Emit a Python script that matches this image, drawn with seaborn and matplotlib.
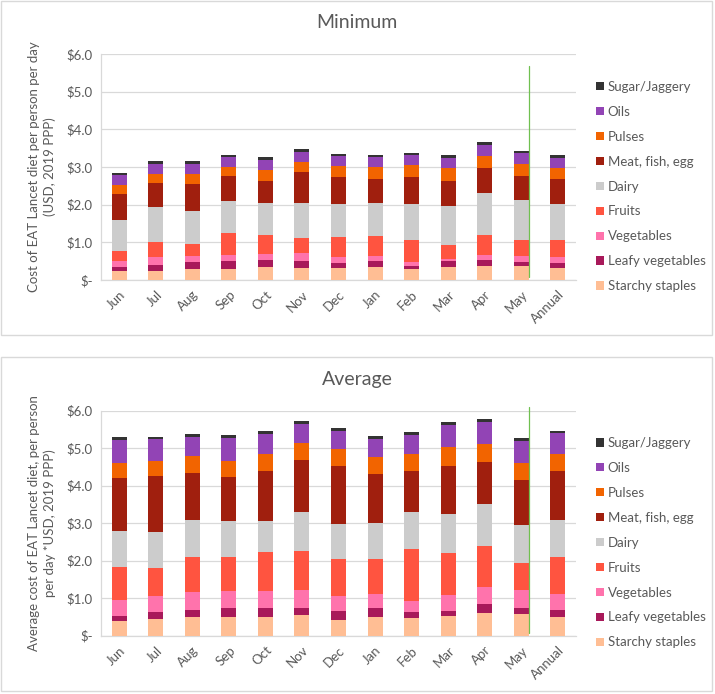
import numpy as np
import pandas as pd
import seaborn as sns
import matplotlib
matplotlib.use("Agg")
from matplotlib import pyplot as plt
from matplotlib.patches import Patch, Rectangle
from matplotlib.ticker import FuncFormatter

# months on the x axis
months = ["Jun", "Jul", "Aug", "Sep", "Oct", "Nov", "Dec", "Jan", "Feb", "Mar", "Apr", "May", "Annual"]

# food groups, bottom of the stack first
groups = ["Starchy staples", "Leafy vegetables", "Vegetables", "Fruits", "Dairy",
          "Meat, fish, egg", "Pulses", "Oils", "Sugar/Jaggery"]
colors = ["#FFBE94", "#A8195A", "#FF73AC", "#FF5440", "#CCCCCC",
          "#A01F0E", "#F26400", "#9244B5", "#333333"]

# minimum cost, USD per person per day
min_starchy = [0.24, 0.25, 0.28, 0.30, 0.34, 0.33, 0.33, 0.35, 0.29, 0.35, 0.36, 0.36, 0.32]
min_leafy   = [0.11, 0.16, 0.19, 0.21, 0.19, 0.18, 0.12, 0.16, 0.09, 0.15, 0.18, 0.13, 0.14]
min_veg     = [0.15, 0.19, 0.18, 0.16, 0.16, 0.22, 0.17, 0.14, 0.10, 0.07, 0.13, 0.16, 0.16]
min_fruits  = [0.27, 0.42, 0.31, 0.57, 0.51, 0.38, 0.53, 0.51, 0.59, 0.37, 0.53, 0.42, 0.45]
min_dairy   = [0.83, 0.91, 0.88, 0.87, 0.84, 0.93, 0.87, 0.88, 0.94, 1.03, 1.12, 1.05, 0.94]
min_meat    = [0.68, 0.65, 0.72, 0.66, 0.58, 0.84, 0.71, 0.64, 0.72, 0.67, 0.66, 0.64, 0.68]
min_pulses  = [0.24, 0.23, 0.26, 0.23, 0.30, 0.25, 0.29, 0.31, 0.31, 0.33, 0.32, 0.33, 0.28]
min_oils    = [0.27, 0.27, 0.26, 0.26, 0.27, 0.28, 0.26, 0.27, 0.27, 0.28, 0.28, 0.27, 0.28]
min_sugar   = [0.06, 0.07, 0.07, 0.06, 0.08, 0.06, 0.07, 0.06, 0.07, 0.06, 0.08, 0.07, 0.06]

# average cost
avg_starchy = [0.40, 0.44, 0.50, 0.49, 0.50, 0.55, 0.42, 0.50, 0.48, 0.52, 0.60, 0.58, 0.50]
avg_leafy   = [0.12, 0.18, 0.19, 0.24, 0.24, 0.19, 0.23, 0.25, 0.14, 0.14, 0.24, 0.15, 0.18]
avg_veg     = [0.42, 0.44, 0.47, 0.47, 0.45, 0.47, 0.41, 0.36, 0.30, 0.43, 0.45, 0.48, 0.44]
avg_fruits  = [0.89, 0.74, 0.94, 0.90, 1.03, 1.05, 0.98, 0.93, 1.38, 1.11, 1.11, 0.72, 0.99]
avg_dairy   = [0.97, 0.97, 0.98, 0.95, 0.83, 1.04, 0.95, 0.97, 1.00, 1.04, 1.12, 1.03, 0.98]
avg_meat    = [1.40, 1.48, 1.26, 1.18, 1.35, 1.38, 1.53, 1.29, 1.08, 1.29, 1.12, 1.18, 1.30]
avg_pulses  = [0.40, 0.40, 0.45, 0.43, 0.44, 0.45, 0.46, 0.47, 0.47, 0.49, 0.46, 0.46, 0.45]
avg_oils    = [0.62, 0.59, 0.51, 0.62, 0.54, 0.52, 0.48, 0.48, 0.50, 0.60, 0.61, 0.59, 0.56]
avg_sugar   = [0.07, 0.07, 0.08, 0.08, 0.07, 0.07, 0.08, 0.07, 0.07, 0.07, 0.07, 0.07, 0.07]

minimum = [min_starchy, min_leafy, min_veg, min_fruits, min_dairy, min_meat, min_pulses, min_oils, min_sugar]
average = [avg_starchy, avg_leafy, avg_veg, avg_fruits, avg_dairy, avg_meat, avg_pulses, avg_oils, avg_sugar]

sns.set_style("white")
plt.rcParams["font.family"] = ["Lato", "DejaVu Sans"]
txt = "#595959"
grid = "#D9D9D9"

fig = plt.figure(figsize=(7.15, 6.94), dpi=100)


def px(x, y):
    return x / 715, 1 - y / 694


def money(v, pos):
    if abs(v) < 1e-9:
        return "$-"
    return f"${v:.1f}"


def panel(vals, top, bottom, frame, title, ylabel, line_top):
    # outer chart frame
    fx0, fy1 = px(1, frame[0])
    fx1, fy0 = px(712, frame[1])
    fig.patches.append(Rectangle((fx0, fy0), fx1 - fx0, fy1 - fy0, transform=fig.transFigure,
                                 fill=False, edgecolor=grid, linewidth=1))
    ax = fig.add_axes([101 / 715, 1 - bottom / 694, 475 / 715, (bottom - top) / 694])

    cum = np.cumsum(np.array(vals), axis=0)
    df = pd.DataFrame(cum.T, columns=groups)
    df["month"] = months
    # draw tallest layer first so lower layers sit on top of it
    for g, c in zip(groups[::-1], colors[::-1]):
        sns.barplot(data=df, x="month", y=g, color=c, width=0.41, saturation=1,
                    errorbar=None, linewidth=0, ax=ax, zorder=3)

    ax.set_xlim(-0.5, 12.5)
    ax.set_ylim(0, 6)
    ax.set_yticks(np.arange(0, 7, 1))
    ax.yaxis.set_major_formatter(FuncFormatter(money))
    ax.grid(axis="y", color=grid, linewidth=0.9, zorder=0)
    ax.set_axisbelow(True)
    for s in ["top", "right"]:
        ax.spines[s].set_visible(False)
    for s in ["left", "bottom"]:
        ax.spines[s].set_color(grid)
        ax.spines[s].set_linewidth(0.9)
    ax.tick_params(length=0, labelsize=9.5, labelcolor=txt, pad=6)
    ax.set_xlabel("")
    ax.set_ylabel("")
    plt.setp(ax.get_xticklabels(), rotation=45, ha="right", rotation_mode="anchor")

    # stray green line between May and Annual
    ax.plot([11.2, 11.2], [line_top, 0.07], color="#70C050", linewidth=0.9, clip_on=False, zorder=4)

    tx, ty = px(357, frame[0] + 22)
    fig.text(tx, ty, title, ha="center", va="center", fontsize=14, color=txt)
    lx, ly = px(42, (top + bottom) / 2)
    fig.text(lx, ly, ylabel, rotation=90, ha="center", va="center", fontsize=9.5,
             color=txt, multialignment="center", linespacing=1.25)

    handles = [Patch(facecolor=c, edgecolor="none") for c in colors[::-1]]
    lgx, lgy = px(596, (top + bottom) / 2 + 19.5)
    fig.legend(handles, groups[::-1], loc="center left", bbox_to_anchor=(lgx, lgy),
               frameon=False, fontsize=9.5, labelcolor=txt, handlelength=0.6, handleheight=0.6,
               handletextpad=0.3, labelspacing=0.98, borderpad=0, borderaxespad=0)
    return ax


panel(minimum, 54, 280, (1, 335), "Minimum",
      "Cost of EAT Lancet diet per person per day\n(USD, 2019 PPP)", 5.68)
panel(average, 410.7, 635.7, (357, 691), "Average",
      "Average cost of EAT Lancet diet, per person\nper day *USD, 2019 PPP)", 6.1)

fig.savefig("out.png", dpi=100)
